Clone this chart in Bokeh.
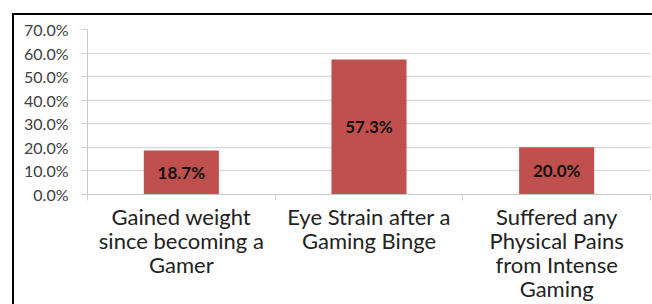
from bokeh.plotting import figure
from bokeh.models import (ColumnDataSource, FixedTicker, NumeralTickFormatter,
                          Range1d, LabelSet)
from bokeh.embed import file_html
from bokeh.resources import INLINE
from bokeh.core.properties import value

categories = ["Gained weight\nsince becoming a\nGamer",
              "Eye Strain after a\nGaming Binge",
              "Suffered any\nPhysical Pains\nfrom Intense\nGaming"]
percentages = [0.187, 0.573, 0.200]
y_ticks = [0.0, 0.1, 0.2, 0.3, 0.4, 0.5, 0.6, 0.7]

FONT = "Lato"
x_pos = [i + 0.5 for i in range(len(categories))]
bar_labels = [f"{v * 100:.1f}%" for v in percentages]
src = ColumnDataSource(dict(x=x_pos, top=percentages,
                            mid=[v / 2 for v in percentages], label=bar_labels))

p = figure(width=652, height=304, output_backend="svg", toolbar_location=None,
           x_range=Range1d(0, len(categories)), y_range=Range1d(0, y_ticks[-1]),
           min_border_left=87, min_border_right=2, min_border_top=29,
           min_border_bottom=110)
p.outline_line_color = None
p.background_fill_color = "white"
p.border_fill_color = None
# black frame edges (top and left) painted behind the transparent canvas border
p.styles = {
    "background": ("linear-gradient(#000, #000) 12px 13px / 2px 100% no-repeat, "
                   "linear-gradient(#000, #000) 12px 13px / 100% 2px no-repeat, #fff"),
}

p.vbar(x="x", top="top", bottom=0, width=0.4, source=src,
       fill_color="#C0504D", line_color=None)

p.add_layout(LabelSet(x="x", y="mid", text="label", source=src,
                      text_align="center", text_baseline="middle",
                      text_font=value(FONT), text_font_style="bold",
                      text_font_size="17px", text_color="#111111"))

# y axis
p.yaxis.ticker = FixedTicker(ticks=y_ticks)
p.yaxis.formatter = NumeralTickFormatter(format="0.0%")
p.yaxis.major_tick_out = 6
p.yaxis.major_tick_in = 0
p.yaxis.minor_tick_line_color = None
p.yaxis.major_tick_line_color = "#d0d0d0"
p.yaxis.axis_line_color = "#c8c8c8"
p.yaxis.major_label_standoff = 13
p.yaxis.major_label_text_font = FONT
p.yaxis.major_label_text_font_size = "16px"
p.yaxis.major_label_text_color = "#404040"

# x axis: category names centred, separators at category boundaries
p.xaxis.ticker = FixedTicker(ticks=x_pos, minor_ticks=list(range(len(categories) + 1)))
p.xaxis.major_label_overrides = {x: c for x, c in zip(x_pos, categories)}
p.xaxis.major_tick_line_color = None
p.xaxis.major_tick_out = 0
p.xaxis.major_tick_in = 0
p.xaxis.minor_tick_out = 6
p.xaxis.minor_tick_in = 0
p.xaxis.minor_tick_line_color = "#d0d0d0"
p.xaxis.axis_line_color = "#c8c8c8"
p.xaxis.major_label_standoff = 2
p.xaxis.major_label_text_font = FONT
p.xaxis.major_label_text_font_size = "22px"
p.xaxis.major_label_text_line_height = 0.89
p.xaxis.major_label_text_color = "#222222"

p.xgrid.visible = False
p.ygrid.grid_line_color = "#dadada"
p.ygrid.grid_line_width = 1.5

open("out.html", "w").write(file_html(p, INLINE))
